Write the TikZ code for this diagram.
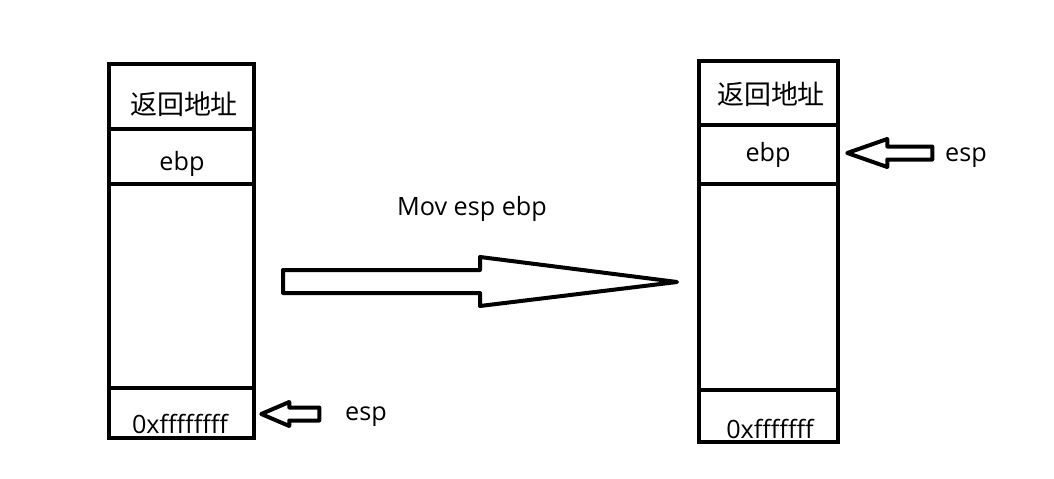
\documentclass[tikz,border=0pt]{standalone}
\usepackage{fontspec}
\setmainfont{Open Sans}
\newfontfamily\cjk{Noto Sans CJK SC}
\begin{document}
\begin{tikzpicture}[x=0.03cm,y=-0.03cm,
		cell/.style={draw,line width=1.35mm,inner sep=0pt},
		hollow/.style={draw,line width=1.2mm,line join=round},
		txt/.style={font=\fontsize{21.5}{26}\selectfont},
		cjktxt/.style={font=\fontsize{23}{27}\cjk}]
	\useasboundingbox (0,0) rectangle (1054,479);
	% left stack
	\foreach \n/\y/\h in {1/96.5/1.95cm,2/156.5/1.65cm,3/286/6.12cm,4/413/1.5cm}{
		\node[cell,minimum width=4.35cm,minimum height=\h] (l\n) at (181.5,\y) {};
	};
	% right stack
	\foreach \n/\y/\h in {1/93/1.92cm,2/154.5/1.77cm,3/287/6.18cm,4/416/1.56cm}{
		\node[cell,minimum width=4.17cm,minimum height=\h] (r\n) at (768.5,\y) {};
	};
	\node[cjktxt] (l1t) at (184,104) {返回地址};
	\node[txt] (l2t) at (182,164) {ebp};
	\node[txt] (l4t) at (180,424) {0xffffffff};
	\node[cjktxt] (r1t) at (771,94) {返回地址};
	\node[txt] (r2t) at (768,155) {ebp};
	\node[txt] (r4t) at (770,429) {0xfffffff};

	\node[txt] (lesp) at (366,417) {esp};
	\node[txt] (resp) at (966,158) {esp};
	\node[txt] (mov) at (472,209) {Mov esp ebp};

	\draw[hollow,shift={(l4.east)}] (5,1) -- (33,-11) -- (33,-5.5) -- (63,-5.5)
		-- (63,7.5) -- (33,7.5) -- (33,13) -- cycle;
	\draw[hollow,shift={(r2.east)}] (7,-1.5) -- (47,-15.5) -- (47,-8) -- (92,-8)
		-- (92,5) -- (47,5) -- (47,12.5) -- cycle;
	\draw[hollow] (283,270) -- (480,270) -- (480,257) -- (677,282)
		-- (480,306) -- (480,293) -- (283,293) -- cycle;
\end{tikzpicture}
\end{document}
